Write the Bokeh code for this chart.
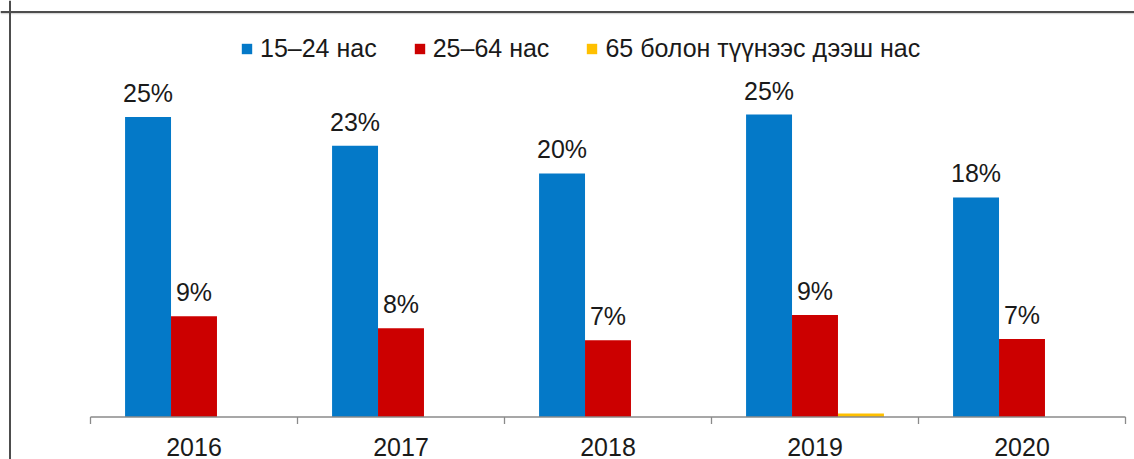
from bokeh.plotting import figure
from bokeh.models import Range1d, Span, Legend, LegendItem
from bokeh.core.properties import value
from bokeh.embed import file_html
from bokeh.resources import INLINE
import math

# ---- data ----
years = ["2016", "2017", "2018", "2019", "2020"]
series_names = ["15–24 нас", "25–64 нас", "65 болон түүнээс дээш нас"]
youth = [25.0, 22.6, 20.3, 25.2, 18.3]
adult = [8.4, 7.4, 6.4, 8.5, 6.5]
elderly = [0.0, 0.0, 0.0, 0.3, 0.0]
youth_labels = ["25%", "23%", "20%", "25%", "18%"]
adult_labels = ["9%", "8%", "7%", "9%", "7%"]

# ---- styling / layout ----
BLUE = "#0479C8"
RED = "#CC0000"
YELLOW = "#FFC000"
FONT = "Liberation Sans"
FS = "25px"
TXT = "#1a1a1a"

W, H = 1134, 459
PX_X = 207.0       # pixels per category
PX_Y = 12.0        # pixels per percent
x0_px = 90.0       # left of first category from frame left
y0_px = 42.5       # axis from frame bottom
xs = -x0_px / PX_X
xe = xs + W / PX_X
ys = -y0_px / PX_Y
ye = ys + H / PX_Y

p = figure(width=W, height=H, output_backend="svg", toolbar_location=None,
           x_range=Range1d(xs, xe), y_range=Range1d(ys, ye),
           x_axis_location=None, y_axis_location=None, min_border=0,
           min_border_left=0, min_border_right=0, min_border_top=0, min_border_bottom=0)
p.grid.visible = False
p.outline_line_color = None
p.background_fill_color = "white"
p.border_fill_color = "white"

bw = 0.222
n = len(years)
centers = [i + 0.5 for i in range(n)]
xb = [c - bw for c in centers]
xr = centers
xy = [c + bw for c in centers]

rb = p.vbar(x=xb, top=youth, bottom=0, width=bw, fill_color=BLUE, line_color=None)
rr = p.vbar(x=xr, top=adult, bottom=0, width=bw, fill_color=RED, line_color=None)
ry = p.vbar(x=xy, top=elderly, bottom=0, width=bw, fill_color=YELLOW, line_color=None)

common = dict(text_align="center", text_baseline="middle", y_offset=-24,
              text_font=value(FONT), text_font_size=FS, text_color=TXT)
p.text(x=xb, y=youth, text=youth_labels, **common)
p.text(x=xr, y=adult, text=adult_labels, **common)

# category axis (Excel style: ticks between categories)
p.segment(x0=[0], y0=[0], x1=[n], y1=[0], line_color="#8a8a8a", line_width=1.3)
p.ray(x=list(range(n + 1)), y=[0] * (n + 1), length=7, length_units="screen",
      angle=-math.pi / 2, line_color="#8a8a8a", line_width=1.3)
p.text(x=centers, y=[0] * n, text=years, text_align="center", text_baseline="middle",
       y_offset=29.5, text_font=value(FONT), text_font_size=FS, text_color=TXT)

# legend
legend = Legend(items=[LegendItem(label=series_names[0], renderers=[rb]),
                       LegendItem(label=series_names[1], renderers=[rr]),
                       LegendItem(label=series_names[2], renderers=[ry])],
                location=(240, 396), orientation="horizontal",
                border_line_color=None, background_fill_alpha=0,
                padding=0, margin=0, glyph_width=13, glyph_height=13,
                label_standoff=7, spacing=36,
                label_text_font=FONT, label_text_font_size=FS, label_text_color=TXT)
p.add_layout(legend)

# outer frame (top and left only, the rest is cropped in the reference)
p.add_layout(Span(location=ye - 11.5 / PX_Y, dimension="width", line_color="#4d4d4d", line_width=2))
p.add_layout(Span(location=ye - 13.2 / PX_Y, dimension="width", line_color="#cfcfcf", line_width=1))
p.add_layout(Span(location=xs + 9.5 / PX_X, dimension="height", line_color="#4d4d4d", line_width=2))

open("out.html", "w").write(file_html(p, INLINE))
